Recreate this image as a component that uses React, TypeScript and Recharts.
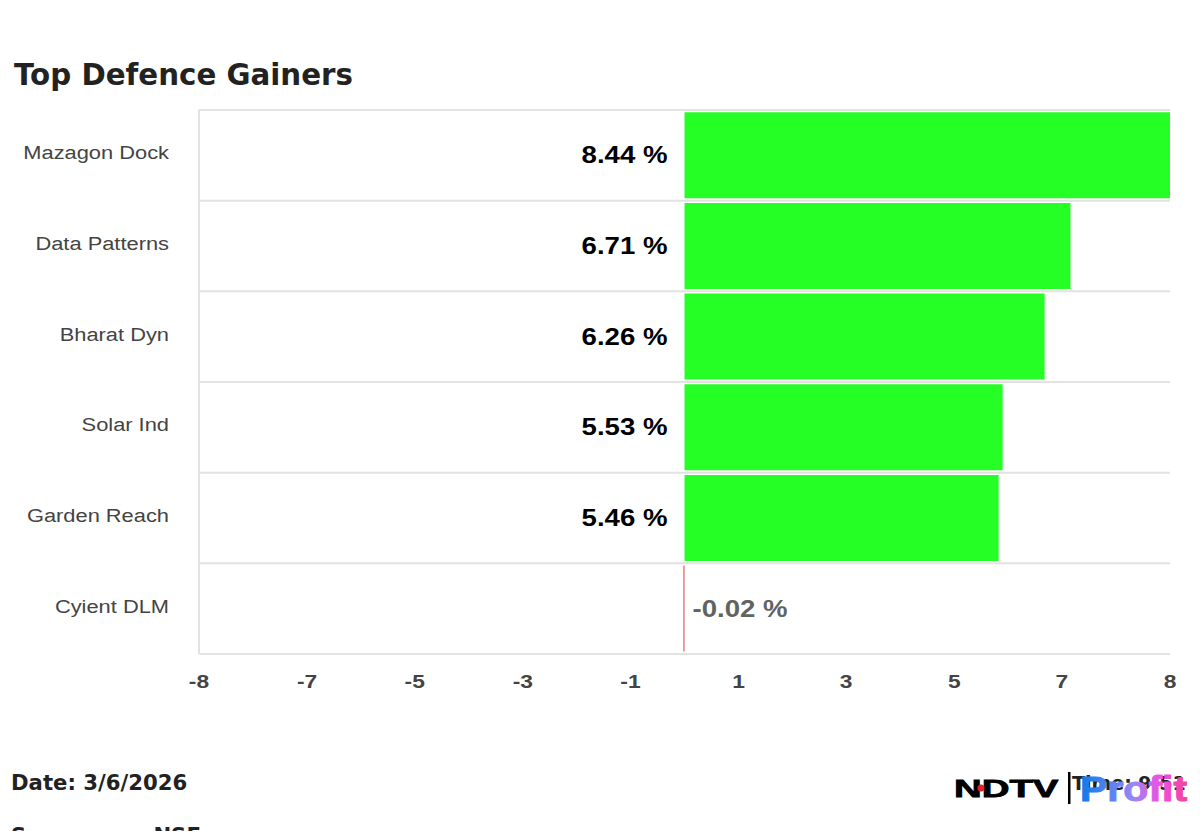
import React from "react";
import { BarChart, Bar, XAxis, YAxis, CartesianGrid, Cell } from "recharts";

const companies = ["Mazagon Dock", "Data Patterns", "Bharat Dyn", "Solar Ind", "Garden Reach", "Cyient DLM"];
const changes = [8.44, 6.71, 6.26, 5.53, 5.46, -0.02];
const axisTicks = [-8.44, -6.56, -4.69, -2.81, -0.94, 0.94, 2.81, 4.69, 6.56, 8.44];

const chartData = companies.map((name, i) => ({ name, change: changes[i] }));

const GAIN = "#26ff26";
const LOSS = "#e0565f";
const GRID = "#e2e2e2";
const HEAD_FONT = "'DejaVu Sans', sans-serif";
const BODY_FONT = "'Liberation Sans', sans-serif";

// the original screenshot is stretched sideways, so text gets a horizontal scale
const StretchedText = ({ x, y, sx, anchor, size, weight, fill, children }: any) => (
  <text
    transform={`translate(${x} ${y}) scale(${sx} 1)`}
    textAnchor={anchor}
    dominantBaseline="central"
    fontFamily={BODY_FONT}
    fontSize={size}
    fontWeight={weight}
    fill={fill}
  >
    {children}
  </text>
);

const CompanyTick = ({ x, y, payload }: any) => (
  <StretchedText x={x} y={y - 3} sx={1.15} anchor="end" size={19} weight={400} fill="#444444">
    {payload.value}
  </StretchedText>
);

const ValueTick = ({ x, y, payload }: any) => (
  <StretchedText x={x} y={y + 19} sx={1.2} anchor="middle" size={19} weight={700} fill="#444444">
    {Number(payload.value).toFixed(0)}
  </StretchedText>
);

const ChangeLabel = ({ x, y, height, value }: any) => {
  const up = value >= 0;
  return (
    <StretchedText
      x={up ? x - 17 : x + 8}
      y={y + height / 2}
      sx={1.2}
      anchor={up ? "end" : "start"}
      size={23}
      weight={700}
      fill={up ? "#000000" : "#5f6462"}
    >
      {`${value.toFixed(2)} %`}
    </StretchedText>
  );
};

const rowLines = ({ offset }: any) =>
  companies.map((_, i) => offset.top + (offset.height * i) / companies.length).concat(offset.top + offset.height);

const Footer = () => (
  <svg width={1200} height={831} style={{ position: "absolute", left: 0, top: 0, pointerEvents: "none" }}>
    <defs>
      <linearGradient id="profitFill" x1="0" x2="1" y1="0" y2="0">
        <stop offset="0%" stopColor="#0a7ce8" />
        <stop offset="50%" stopColor="#9a86f5" />
        <stop offset="75%" stopColor="#f04fe0" />
        <stop offset="100%" stopColor="#f0449a" />
      </linearGradient>
    </defs>
    <text x={14} y={85} fontFamily={HEAD_FONT} fontWeight={700} fontSize={29.3} fill="#222222">
      Top Defence Gainers
    </text>
    <text x={11} y={790} fontFamily={HEAD_FONT} fontWeight={700} fontSize={21.2} fill="#222222">
      Date: 3/6/2026
    </text>
    <text x={11} y={843} fontFamily={HEAD_FONT} fontWeight={700} fontSize={21.2} fill="#222222" xmlSpace="preserve">
      Source :      NSE
    </text>
    <text x={1072} y={790} fontFamily={HEAD_FONT} fontWeight={700} fontSize={19} fill="#222222">
      Time: 9:51
    </text>
    <text
      transform="translate(954 797) scale(1.6 1)"
      fontFamily={BODY_FONT}
      fontWeight={700}
      fontSize={24}
      stroke="#000000"
      strokeWidth={0.8}
      fill="#000000"
    >
      NDTV
    </text>
    <circle cx={981} cy={788} r={3.5} fill="#e8202a" />
    <rect x={1068} y={772} width={2.5} height={32} fill="#000000" />
    <text
      transform="translate(1080 801) scale(1.14 1)"
      fontFamily={BODY_FONT}
      fontWeight={700}
      fontSize={36}
      stroke="url(#profitFill)"
      strokeWidth={1}
      fill="url(#profitFill)"
    >
      Profit
    </text>
  </svg>
);

export default function App() {
  return (
    <div style={{ position: "absolute", left: 0, top: 0, width: 1200, height: 831, overflow: "hidden", background: "#fff" }}>
      <BarChart
        width={1200}
        height={831}
        data={chartData}
        layout="vertical"
        barCategoryGap="2.5%"
        margin={{ top: 110, right: 30, bottom: 137, left: 0 }}
      >
        <CartesianGrid
          vertical={false}
          stroke={GRID}
          strokeWidth={2}
          horizontalCoordinatesGenerator={rowLines}
        />
        <XAxis
          type="number"
          domain={[-8.44, 8.44]}
          ticks={axisTicks}
          interval={0}
          height={40}
          tick={<ValueTick />}
          tickLine={false}
          axisLine={false}
        />
        <YAxis
          type="category"
          dataKey="name"
          width={199}
          interval={0}
          tick={<CompanyTick />}
          tickSize={0}
          tickMargin={30}
          axisLine={{ stroke: GRID, strokeWidth: 2 }}
        />
        <Bar dataKey="change" isAnimationActive={false} label={<ChangeLabel />}>
          {chartData.map((row) => (
            <Cell key={row.name} fill={row.change >= 0 ? GAIN : LOSS} />
          ))}
        </Bar>
      </BarChart>
      <Footer />
    </div>
  );
}
